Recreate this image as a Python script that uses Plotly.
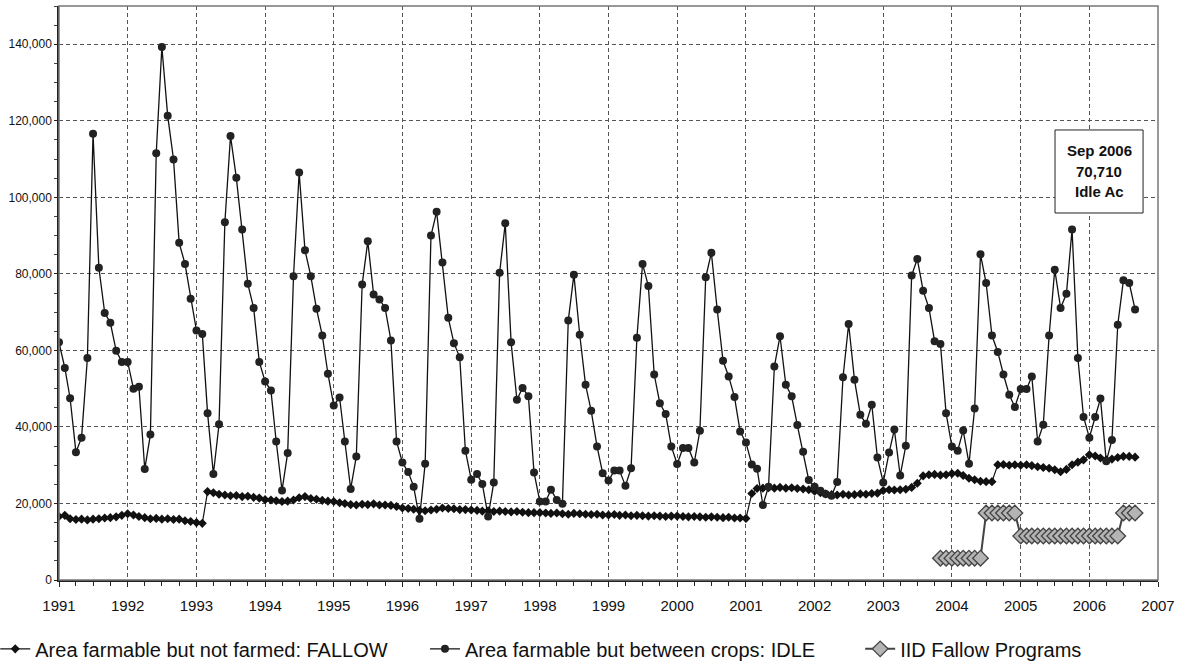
import plotly.graph_objects as go
import pandas as pd

# ---------------- data (acres) ----------------
month_start = "1991-01-01"
month_end = "2006-09-01"

fallow_acres = [
    16600, 16900, 16000, 15800, 15900, 15700, 15900, 16000, 16200, 16300, 16500, 16900,  # 1991
    17300, 17000, 16600, 16300, 16000, 16100, 15900, 16000, 15800, 15900, 15500, 15300,  # 1992
    15000, 14800, 23100, 22800, 22400, 22200, 22000, 22100, 21800, 21900, 21600, 21400,  # 1993
    21000, 20900, 20700, 20500, 20600, 20900, 21500, 21800, 21300, 21100, 20800, 20600,  # 1994
    20500, 20200, 20000, 19700, 19600, 19800, 19700, 19900, 19600, 19600, 19500, 19200,  # 1995
    18800, 18700, 18500, 18200, 18100, 18300, 18500, 18800, 18700, 18600, 18400, 18400,  # 1996
    18300, 18200, 18000, 18100, 17900, 18000, 17900, 17800, 17900, 17700, 17600, 17600,  # 1997
    17600, 17500, 17400, 17500, 17300, 17200, 17400, 17300, 17200, 17100, 17200, 17000,  # 1998
    17000, 17100, 16900, 17000, 16800, 16900, 16800, 16700, 16800, 16700, 16600, 16700,  # 1999
    16700, 16600, 16500, 16600, 16500, 16400, 16500, 16400, 16300, 16400, 16200, 16200,  # 2000
    16100, 22600, 23900, 24000, 24100, 24000, 24200, 24000, 24100, 23900, 23800, 23600,  # 2001
    23200, 22800, 22500, 22300, 22200, 22400, 22200, 22300, 22500, 22400, 22600, 22700,  # 2002
    23400, 23600, 23500, 23600, 23700, 24200, 25300, 27200, 27500, 27600, 27400, 27500,  # 2003
    27800, 27900, 27300, 26600, 26200, 25800, 25700, 25700, 30100, 30200, 30000, 30100,  # 2004
    30000, 30100, 29900, 29600, 29400, 29200, 28800, 28300, 28900, 30100, 30800, 31400,  # 2005
    32700, 32400, 31900, 31400, 31600, 32000, 32300, 32300, 32100,                       # 2006
]

idle_acres = [
    62100, 55400, 47500, 33400, 37200, 58000, 116600, 81600, 69800, 67200, 59900, 57000,   # 1991
    57000, 50000, 50500, 29000, 38000, 111500, 139300, 121300, 109900, 88100, 82600, 73500,  # 1992
    65200, 64300, 43600, 27700, 40700, 93500, 116000, 105100, 91600, 77400, 71100, 57000,   # 1993
    51900, 49500, 36200, 23400, 33200, 79400, 106500, 86200, 79400, 70900, 63900, 53900,    # 1994
    45600, 47700, 36200, 23800, 32300, 77200, 88500, 74600, 73300, 71100, 62600, 36200,     # 1995
    30700, 28200, 24400, 16000, 30400, 90000, 96200, 83000, 68500, 61900, 58200, 33800,     # 1996
    26200, 27700, 25100, 16600, 25500, 80300, 93200, 62100, 47100, 50200, 48000, 28100,     # 1997
    20500, 20500, 23600, 20900, 19900, 67800, 79800, 64100, 51000, 44200, 34900, 27900,     # 1998
    26000, 28600, 28600, 24600, 29200, 63300, 82600, 76800, 53700, 46200, 43400, 34900,     # 1999
    30300, 34500, 34500, 30700, 39000, 79100, 85500, 70700, 57300, 53200, 47800, 38800,     # 2000
    35900, 30200, 29100, 19600, 24400, 55800, 63700, 51000, 48000, 40500, 33500, 26100,     # 2001
    24400, 23300, 22500, 22000, 25600, 53000, 66900, 52300, 43200, 40800, 45800, 32000,     # 2002
    25500, 33300, 39300, 27300, 35100, 79600, 83900, 75600, 71100, 62400, 61700, 43600,     # 2003
    34900, 33800, 39100, 30400, 44800, 85100, 77600, 63900, 59600, 53700, 48400, 45200,     # 2004
    49900, 49900, 53200, 36200, 40600, 63900, 81100, 71100, 74800, 91600, 58000, 42600,     # 2005
    37200, 42600, 47400, 31000, 36600, 66700, 78300, 77600, 70710,                          # 2006
]

iid_start = "2003-11-01"
iid_acres = [
    5700, 5700, 5700, 5700, 5700, 5700, 5700, 5700,                      # Nov 2003 - Jun 2004
    17500, 17500, 17500, 17500, 17500, 17500,                            # Jul - Dec 2004
    11500, 11500, 11500, 11500, 11500, 11500, 11500, 11500, 11500,       # 2005 ...
    11500, 11500, 11500, 11500, 11500, 11500, 11500, 11500, 11500,       # ... Jun 2006
    17500, 17500, 17500,                                                 # Jul - Sep 2006
]

series_names = [
    "Area farmable but not farmed: FALLOW",
    "Area farmable but between crops: IDLE",
    "IID Fallow Programs",
]
callout_lines = ["Sep 2006", "70,710", "Idle Ac"]
year_ticks = [str(y) for y in range(1991, 2008)]

months = pd.date_range(month_start, month_end, freq="MS")
iid_months = pd.date_range(iid_start, periods=len(iid_acres), freq="MS")

FONT = "Liberation Sans, Arial, sans-serif"

fig = go.Figure()

fig.add_trace(go.Scatter(
    x=months, y=fallow_acres, name=series_names[0], mode="lines+markers",
    line=dict(color="#111111", width=1.2),
    marker=dict(symbol="diamond", size=7, color="#111111"),
    legend="legend",
))
fig.add_trace(go.Scatter(
    x=months, y=idle_acres, name=series_names[1], mode="lines+markers",
    line=dict(color="#111111", width=1.3),
    marker=dict(symbol="circle", size=8, color="#222222"),
    legend="legend2",
))
fig.add_trace(go.Scatter(
    x=iid_months, y=iid_acres, name=series_names[2], mode="lines+markers",
    line=dict(color="#444444", width=2),
    marker=dict(symbol="diamond", size=12, color="#b4b4b4",
                line=dict(color="#444444", width=1.3)),
    legend="legend3",
))

grid = dict(showgrid=True, gridcolor="#555555", gridwidth=1, griddash="4px,3px")

fig.update_xaxes(
    type="date",
    range=["1991-01-01", "2007-01-01"],
    tickvals=pd.to_datetime([f"{y}-01-01" for y in year_ticks]),
    ticktext=year_ticks,
    ticks="outside", ticklen=5, tickcolor="#222222",
    ticklabelstandoff=6,
    minor=dict(ticks="outside", ticklen=4, dtick="M3", tick0="1991-01-01",
               tickcolor="#222222", showgrid=False),
    showline=True, linecolor="#222222", linewidth=1.5,
    tickfont=dict(family=FONT, size=15, color="#111111"),
    zeroline=False,
    **grid,
)
fig.update_yaxes(
    range=[0, 150000],
    tickvals=list(range(0, 140001, 20000)),
    tickformat=",d",
    ticks="outside", ticklen=3, tickcolor="#222222",
    minor=dict(ticks="outside", ticklen=3, dtick=5000, tickcolor="#444444", showgrid=False),
    showline=True, linecolor="#222222", linewidth=1.5,
    tickfont=dict(family=FONT, size=12, color="#111111"),
    zeroline=False,
    **grid,
)

# plot frame (top/right border)
fig.add_shape(type="rect", xref="paper", yref="paper", x0=0, y0=0, x1=1, y1=1,
              line=dict(color="#777777", width=1.5), layer="above")

# callout box
fig.add_shape(type="rect", xref="paper", yref="paper",
              x0=0.9063, x1=0.9864, y0=0.6394, y1=0.784,
              line=dict(color="#222222", width=1), fillcolor="white", layer="above")
for txt, yy in zip(callout_lines, [0.749, 0.7125, 0.676]):
    fig.add_annotation(text=f"<b>{txt}</b>", xref="paper", yref="paper",
                       x=0.9464, y=yy, xanchor="center", yanchor="middle",
                       showarrow=False, font=dict(family=FONT, size=15, color="#111111"))

leg_common = dict(orientation="h", yanchor="top", xanchor="left", y=-0.086,
                  bgcolor="rgba(0,0,0,0)", font=dict(family=FONT, size=20, color="#111111"),
                  itemwidth=30)
fig.update_layout(
    width=1188, height=664,
    margin=dict(l=59, r=30, t=6, b=84, autoexpand=False),
    paper_bgcolor="white", plot_bgcolor="white",
    font=dict(family=FONT, color="#111111"),
    legend=dict(x=-0.058, **leg_common),
    legend2=dict(x=0.333, **leg_common),
    legend3=dict(x=0.729, **leg_common),
    showlegend=True,
)

fig.write_html("out.html", config={"displayModeBar": False},
               post_script="document.body.style.margin='0';")
